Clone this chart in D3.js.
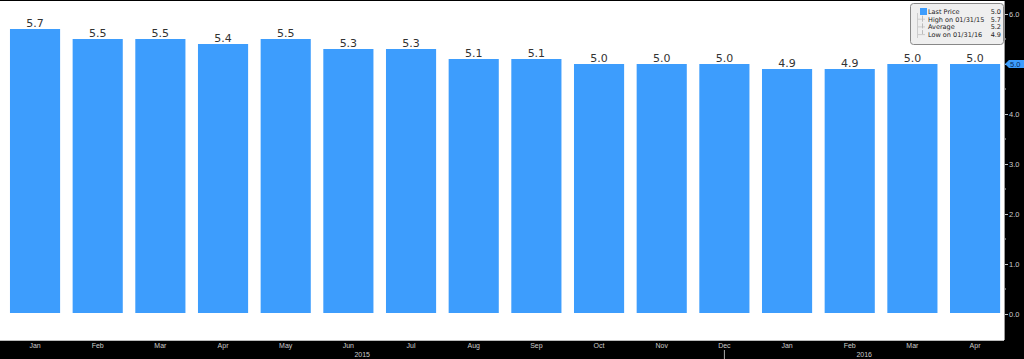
<!DOCTYPE html>
<html>
<head>
<meta charset="utf-8">
<script src="https://cdn.jsdelivr.net/npm/d3@7"></script>
<style>
  html, body { margin: 0; padding: 0; background: #000; }
  .canvas { width: 1024px; height: 359px; }
  text { font-family: "DejaVu Sans", Verdana, sans-serif; }
  .small { font-family: "Liberation Sans", Arial, sans-serif; }
</style>
</head>
<body>
<div class="canvas"></div>
<script>
const months = ['Jan', 'Feb', 'Mar', 'Apr', 'May', 'Jun', 'Jul', 'Aug',
                'Sep', 'Oct', 'Nov', 'Dec', 'Jan', 'Feb', 'Mar', 'Apr'];
const values = [5.7, 5.5, 5.5, 5.4, 5.5, 5.3, 5.3, 5.1, 5.1, 5.0, 5.0, 5.0, 4.9, 4.9, 5.0, 5.0];
const years = ['2015', '2016'];
const yTicks = [0, 1, 2, 3, 4, 5, 6];
const legendRows = [
    { label: 'Last Price', value: '5.0' },
    { label: 'High on 01/31/15', value: '5.7' },
    { label: 'Average', value: '5.2' },
    { label: 'Low on 01/31/16', value: '4.9' }
];
const lastPrice = 5.0;

const width = 1024;
const height = 359;
const plotRight = 1004;
const plotBottom = 340;
const barColour = '#3d9dfd';

const svg = d3.select('.canvas')
    .append('svg')
    .attr('width', width)
    .attr('height', height);

// backgrounds
svg.append('rect')
    .attr('width', width)
    .attr('height', height)
    .attr('fill', '#000');

svg.append('rect')
    .attr('x', 0)
    .attr('y', 1)
    .attr('width', plotRight)
    .attr('height', plotBottom - 1)
    .attr('fill', '#fff');

svg.append('line')
    .attr('x1', 0).attr('x2', plotRight)
    .attr('y1', plotBottom + 0.5).attr('y2', plotBottom + 0.5)
    .attr('stroke', '#bbb');

const x = d3.scaleBand()
    .domain(d3.range(months.length))
    .range([3.7, 1006.4])
    .paddingInner(0.2)
    .paddingOuter(0.1);

const y = d3.scaleLinear()
    .domain([0, 6])
    .range([314, 14]);

// bars
const graph = svg.append('g');

graph.selectAll('rect')
    .data(values)
    .enter()
    .append('rect')
    .attr('x', (d, i) => x(i))
    .attr('width', x.bandwidth())
    .attr('y', d => y(d))
    .attr('height', d => y(0) - y(d) - 1)
    .attr('fill', barColour);

graph.selectAll('text')
    .data(values)
    .enter()
    .append('text')
    .attr('x', (d, i) => x(i) + x.bandwidth() / 2)
    .attr('y', d => y(d) - 2)
    .attr('text-anchor', 'middle')
    .attr('font-size', 11)
    .attr('fill', '#333')
    .text(d => d.toFixed(1));

// right axis
const yAxis = d3.axisRight(y)
    .tickValues(yTicks)
    .tickSize(4)
    .tickFormat(d3.format('.1f'));

const yAxisGroup = svg.append('g')
    .attr('transform', `translate(${plotRight}, 0)`)
    .call(yAxis);

yAxisGroup.select('.domain').remove();
yAxisGroup.selectAll('line').attr('stroke', '#ccc');
yAxisGroup.selectAll('text')
    .attr('class', 'small')
    .attr('fill', '#ccc')
    .attr('font-size', 7.5)
    .attr('x', 5);

// minor ticks
svg.append('g')
    .selectAll('line')
    .data(d3.range(0.5, 6, 1))
    .enter()
    .append('line')
    .attr('x1', plotRight).attr('x2', plotRight + 2)
    .attr('y1', d => y(d)).attr('y2', d => y(d))
    .attr('stroke', '#ccc');

svg.append('line')
    .attr('x1', plotRight + 0.5).attr('x2', plotRight + 0.5)
    .attr('y1', 1).attr('y2', plotBottom)
    .attr('stroke', '#999');

// last price tag
const tagY = y(lastPrice);
svg.append('path')
    .attr('d', `M${plotRight + 1},${tagY} L${plotRight + 5},${tagY - 4} L${width},${tagY - 4} L${width},${tagY + 4} L${plotRight + 5},${tagY + 4} Z`)
    .attr('fill', barColour);

svg.append('text')
    .attr('class', 'small')
    .attr('x', plotRight + 6)
    .attr('y', tagY + 3)
    .attr('font-size', 7.5)
    .attr('fill', '#0a2a5a')
    .text(lastPrice.toFixed(1));

// bottom axis
const xAxisGroup = svg.append('g');

xAxisGroup.selectAll('text')
    .data(months)
    .enter()
    .append('text')
    .attr('class', 'small')
    .attr('x', (d, i) => x(i) + x.bandwidth() / 2)
    .attr('y', 348)
    .attr('text-anchor', 'middle')
    .attr('font-size', 7)
    .attr('fill', '#ccc')
    .text(d => d);

const sepX = x(11) + x.bandwidth() / 2;

svg.append('line')
    .attr('x1', sepX).attr('x2', sepX)
    .attr('y1', 350).attr('y2', height)
    .attr('stroke', '#aaa');

svg.append('g')
    .selectAll('text')
    .data(years)
    .enter()
    .append('text')
    .attr('class', 'small')
    .attr('x', (d, i) => i === 0 ? sepX / 2 : (sepX + plotRight) / 2)
    .attr('y', 357)
    .attr('text-anchor', 'middle')
    .attr('font-size', 7)
    .attr('fill', '#ccc')
    .text(d => d);

// legend
const legend = svg.append('g')
    .attr('transform', 'translate(910, 3)');

legend.append('rect')
    .attr('x', 0.5)
    .attr('y', 0.5)
    .attr('width', 93)
    .attr('height', 41)
    .attr('rx', 3)
    .attr('fill', '#efefef')
    .attr('stroke', '#888');

legend.append('line')
    .attr('x1', 7.5).attr('x2', 7.5)
    .attr('y1', 10).attr('y2', 35)
    .attr('stroke', '#ccc');

legend.append('rect')
    .attr('x', 10)
    .attr('y', 5)
    .attr('width', 7)
    .attr('height', 7)
    .attr('fill', barColour);

const rows = legend.selectAll('.row')
    .data(legendRows)
    .enter()
    .append('g')
    .attr('transform', (d, i) => `translate(0, ${11 + i * 7.7})`);

rows.append('text')
    .attr('x', 18)
    .attr('font-size', 6.5)
    .attr('fill', '#222')
    .text(d => d.label);

rows.append('text')
    .attr('x', 91)
    .attr('text-anchor', 'end')
    .attr('font-size', 6.5)
    .attr('fill', '#222')
    .text(d => d.value);

// small icons for high / average / low
const icons = rows.filter((d, i) => i > 0);

icons.append('line')
    .attr('x1', 7.5).attr('x2', 15)
    .attr('y1', -2.5).attr('y2', -2.5)
    .attr('stroke', '#ccc');

icons.append('line')
    .attr('x1', 12.5).attr('x2', 12.5)
    .attr('y1', (d, i) => i === 2 ? -7 : -6)
    .attr('y2', (d, i) => i === 0 ? 0 : (i === 1 ? -1 : -3))
    .attr('stroke', '#bbb');
</script>
</body>
</html>
